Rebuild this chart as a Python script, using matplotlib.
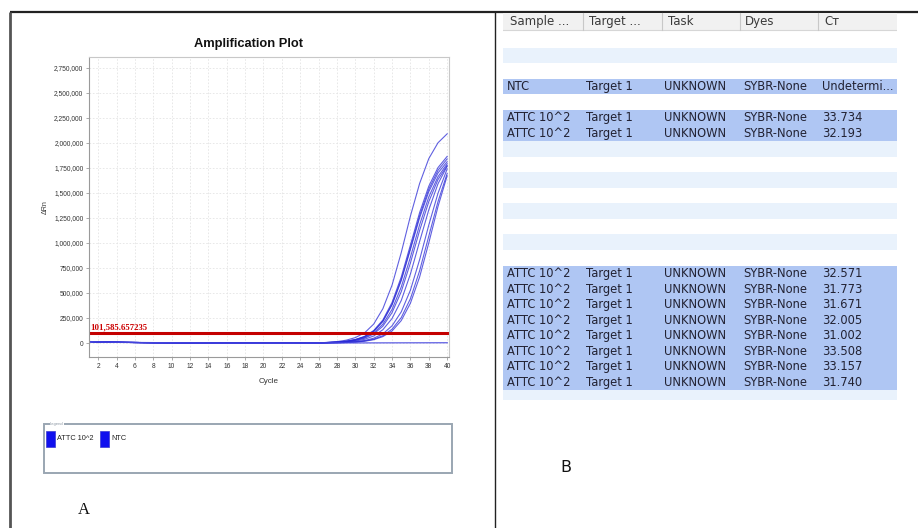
import matplotlib
matplotlib.use("Agg")
import matplotlib.pyplot as plt
from matplotlib.patches import Rectangle
from matplotlib.ticker import FuncFormatter

# ---------------- data: amplification plot ----------------
cycles = list(range(1, 41))
baseline_c1_26 = [14000, 11000, 9000, 7500, 6000, 5000, 4000, 3000, 2500, 2000,
                  1500, 1000, 500, 0, -500, -800, -1000, -1200, -1300, -1400,
                  -1400, -1300, -1200, -1000, -600, 0]
# Delta Rn values for cycles 27..40, one list per ATTC 10^2 well
well_ct_31_002 = [7000, 14000, 28000, 54000, 101000, 189000, 343000, 579000, 904000, 1270000, 1595000, 1844000, 2002000, 2092000]
well_ct_31_671 = [5000, 9000, 18000, 35000, 66000, 125000, 230000, 406000, 660000, 980000, 1304000, 1568000, 1754000, 1866000]
well_ct_31_740 = [5000, 9000, 17000, 33000, 63000, 119000, 220000, 388000, 636000, 950000, 1273000, 1538000, 1727000, 1841000]
well_ct_31_773 = [5000, 9000, 17000, 32000, 61000, 116000, 215000, 381000, 624000, 935000, 1252000, 1513000, 1700000, 1813000]
well_ct_32_005 = [4000, 7000, 14000, 28000, 53000, 101000, 188000, 336000, 560000, 858000, 1182000, 1461000, 1663000, 1792000]
well_ct_32_193 = [3000, 7000, 13000, 25000, 48000, 90000, 168000, 304000, 513000, 801000, 1125000, 1414000, 1634000, 1775000]
well_ct_32_571 = [3000, 5000, 10000, 19000, 37000, 70000, 133000, 245000, 425000, 690000, 1015000, 1332000, 1592000, 1768000]
well_ct_33_157 = [2000, 3000, 7000, 13000, 25000, 48000, 91000, 172000, 311000, 529000, 833000, 1180000, 1497000, 1741000]
well_ct_33_508 = [1000, 3000, 5000, 10000, 20000, 38000, 73000, 138000, 254000, 443000, 722000, 1069000, 1413000, 1696000]
well_ct_33_734 = [1000, 2000, 5000, 9000, 17000, 33000, 64000, 120000, 224000, 398000, 660000, 1001000, 1364000, 1672000]
ntc_c27_40 = [300, 500, 700, 900, 1100, 1300, 1500, 1700, 1900, 2100, 2300, 2500, 2700, 2900]

attc_wells = [well_ct_31_002, well_ct_31_671, well_ct_31_740, well_ct_31_773,
              well_ct_32_005, well_ct_32_193, well_ct_32_571, well_ct_33_157,
              well_ct_33_508, well_ct_33_734]
threshold = 101585.657235
y_ticks = [0, 250000, 500000, 750000, 1000000, 1250000, 1500000, 1750000,
           2000000, 2250000, 2500000, 2750000]
x_ticks = list(range(2, 41, 2))
legend_names = ["ATTC 10^2", "NTC"]

# ---------------- data: results table ----------------
table_header = ["Sample ...", "Target ...", "Task", "Dyes", "C\u1d1b"]
table_row_index = [3, 5, 6, 15, 16, 17, 18, 19, 20, 21, 22]
sample_names = ["NTC"] + ["ATTC 10^2"] * 10
target_names = ["Target 1"] * 11
task_names = ["UNKNOWN"] * 11
dye_names = ["SYBR-None"] * 11
ct_values = ["Undetermi...", "33.734", "32.193", "32.571", "31.773", "31.671",
             "32.005", "31.002", "33.508", "33.157", "31.740"]

W, H = 918, 528
fig = plt.figure(figsize=(W / 100, H / 100), dpi=100)
fig.patch.set_facecolor("white")

narrow = ["Liberation Sans", "DejaVu Sans"]
serif = ["Liberation Serif", "DejaVu Serif"]


def fx(px):
    return px / W


def fy(py):
    return 1 - py / H


# ---------- background / layout layer in pixel coordinates ----------
bg = fig.add_axes([0, 0, 1, 1], zorder=0)
bg.set_xlim(0, W)
bg.set_ylim(H, 0)
bg.axis("off")
bg.plot([10, W], [12, 12], color="#222222", lw=1.6, solid_capstyle="butt")
bg.plot([10, 10], [12, H], color="#555555", lw=2.0, solid_capstyle="butt")
bg.plot([495, 495], [12, H], color="#222222", lw=1.0, solid_capstyle="butt")

# title of panel A (offset left of the axes centre, as in the original)
bg.text(249, 44, "Amplification Plot", fontsize=9.3, weight="bold", family=narrow,
        color="#111111", ha="center", va="center")

# legend box
bg.add_patch(Rectangle((44, 424), 408, 49, fill=False, ec="#9aa6b2", lw=1.4))
bg.text(50, 424, "Legend", fontsize=3, color="#8a96a2", va="center", ha="left",
        family=narrow, bbox=dict(fc="white", ec="none", pad=0.3))
bg.add_patch(Rectangle((46, 431), 9, 16, fc="#1010ee", ec="#3a3ad0", lw=0.5))
bg.text(57, 439, legend_names[0], fontsize=5.3, family=narrow, va="center", color="#222222")
bg.add_patch(Rectangle((100, 431), 9, 16, fc="#1010ee", ec="#3a3ad0", lw=0.5))
bg.text(111, 439, legend_names[1], fontsize=5.3, family=narrow, va="center", color="#222222")

bg.text(84, 510, "A", fontsize=12, family=serif, ha="center", va="center", color="#111111")
bg.text(566, 468, "B", fontsize=11.5, family=["DejaVu Sans"], ha="center", va="center", color="#111111")

# ---------- amplification plot ----------
ax = fig.add_axes([fx(89), fy(357), fx(449) - fx(89), fy(57) - fy(357)], zorder=2)
ax.set_facecolor("white")
for well in attc_wells:
    ax.plot(cycles, baseline_c1_26 + well, color="#2b2bd6", lw=0.8, alpha=0.75)
ax.plot(cycles, baseline_c1_26 + ntc_c27_40, color="#4a4ae0", lw=1.0, alpha=0.8)
ax.axhline(threshold, color="#c40000", lw=2.2)
ax.text(1.15, threshold + 12000, "101,585.657235", color="#cc0000", fontsize=6.3,
        family=serif, weight="bold", va="bottom", ha="left")

ax.set_xlim(1.0, 40.2)
ax.set_ylim(-140000, 2860000)
ax.set_xticks(x_ticks)
ax.set_yticks(y_ticks)
ax.yaxis.set_major_formatter(FuncFormatter(lambda v, p: f"{v:,.0f}"))
ax.grid(True, color="#e4e4e4", lw=0.6, ls=(0, (2, 2)))
ax.set_axisbelow(True)
for s in ax.spines.values():
    s.set_color("#c8c8c8")
    s.set_linewidth(0.8)
ax.spines["left"].set_color("#9a9a9a")
ax.spines["bottom"].set_color("#9a9a9a")
ax.tick_params(axis="both", length=2, width=0.5, color="#888888", labelsize=4.8,
               labelcolor="#333333", pad=2)
for lab in ax.get_xticklabels() + ax.get_yticklabels():
    lab.set_family(narrow)
ax.set_xlabel("Cycle", fontsize=5.8, family=narrow, color="#333333", labelpad=6)
ax.set_ylabel("\u0394Rn", fontsize=5, family=narrow, color="#333333", labelpad=4)

# ---------- results table ----------
tx0, tx1, ty0, ty1 = 503, 897, 12, 400
tb = fig.add_axes([fx(tx0), fy(ty1), fx(tx1) - fx(tx0), fy(ty0) - fy(ty1)], zorder=1)
n_rows = 24
tb.set_xlim(0, 1)
tb.set_ylim(23.64, -1.285)
tb.axis("off")

col_text_x = [0.010, 0.211, 0.409, 0.609, 0.810]
col_head_x = [0.018, 0.218, 0.419, 0.614, 0.815]
col_sep_x = [0.203, 0.404, 0.602, 0.800]

# header
tb.add_patch(Rectangle((0, -1.22), 1, 1.12, fc="#f1f1f1", ec="none"))
tb.plot([0, 1], [-0.1, -0.1], color="#d6d6d6", lw=0.8)
for sx in col_sep_x:
    tb.plot([sx, sx], [-1.2, -0.12], color="#c8c8c8", lw=0.8)
for hx, name in zip(col_head_x, table_header):
    tb.text(hx, -0.66, name, fontsize=8.5, family=["DejaVu Sans"], color="#3a3a3a",
            va="center", ha="left")

# stripes
selected = set(table_row_index)
for r in range(n_rows):
    h = 1.0 if r < n_rows - 1 else 0.64
    if r in selected:
        fc = "#afc6f3"
    elif r % 2 == 1:
        fc = "#e9f2fc"
    else:
        continue
    tb.add_patch(Rectangle((0, r), 1, h, fc=fc, ec="none"))

for i, r in enumerate(table_row_index):
    row = [sample_names[i], target_names[i], task_names[i], dye_names[i], ct_values[i]]
    for cx, val in zip(col_text_x, row):
        tb.text(cx, r + 0.52, val, fontsize=8.3, family=["DejaVu Sans"],
                color="#222233", va="center", ha="left")

fig.savefig("out.png", dpi=100, facecolor="white")
